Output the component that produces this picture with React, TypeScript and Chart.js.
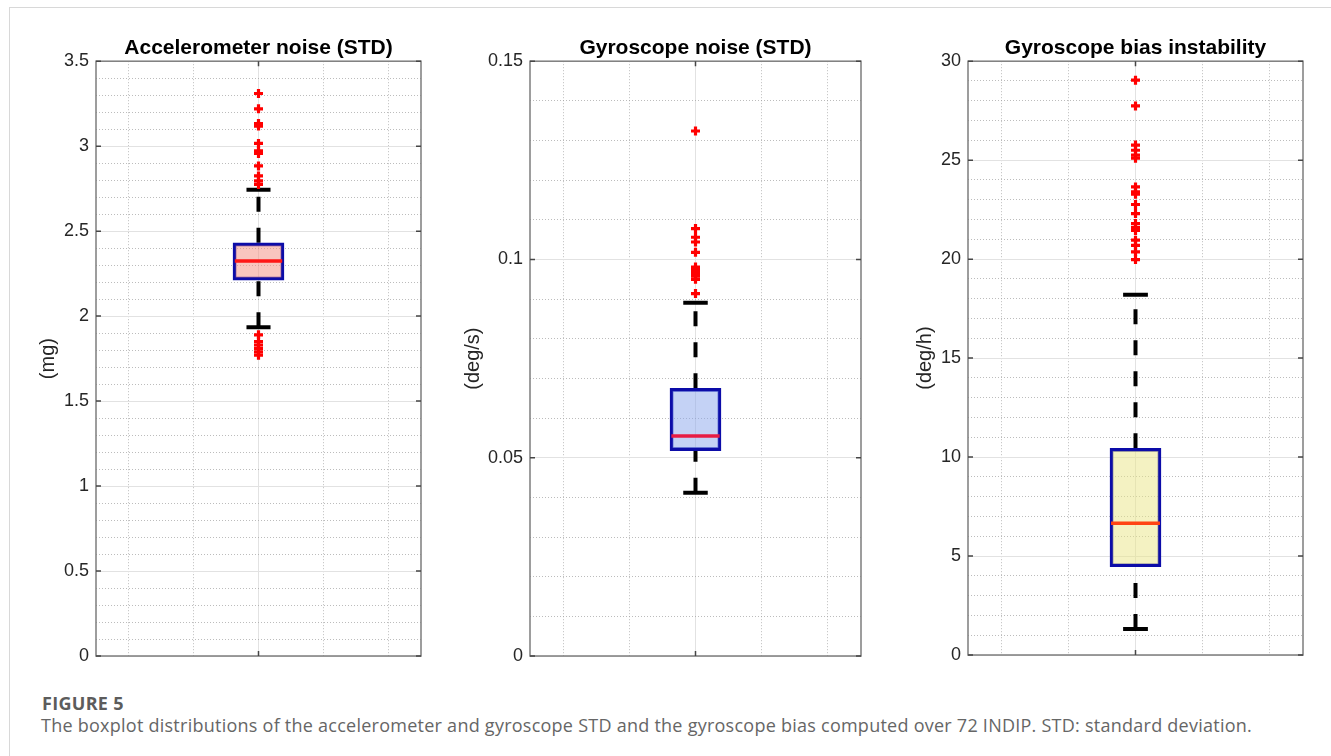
import React, { useEffect, useRef } from 'react';
import { Chart, registerables } from 'chart.js';

Chart.register(...registerables);

const FONT = '"Liberation Sans", Arial, Helvetica, sans-serif';

// [lower whisker, Q1, median, Q3, upper whisker]
const ACC_BOX = [1.935, 2.212, 2.324, 2.431, 2.743];
const ACC_OUTLIERS = [3.31, 3.22, 3.133, 3.118, 3.016, 2.973, 2.957, 2.884, 2.825, 2.796, 2.775, 1.89, 1.85, 1.83, 1.81, 1.79, 1.77];
const GYRO_BOX = [0.0412, 0.0518, 0.0555, 0.0675, 0.0891];
const GYRO_OUTLIERS = [0.1324, 0.1078, 0.1056, 0.1044, 0.1018, 0.0981, 0.0975, 0.097, 0.0965, 0.0958, 0.095, 0.0914];
const BIAS_BOX = [1.31, 4.46, 6.65, 10.44, 18.2];
const BIAS_OUTLIERS = [29.04, 27.74, 25.76, 25.5, 25.25, 25.1, 23.65, 23.4, 23.28, 22.76, 22.3, 21.8, 21.6, 21.45, 20.96, 20.7, 20.37, 19.98];

const TITLES = ['Accelerometer noise (STD)', 'Gyroscope noise (STD)', 'Gyroscope bias instability'];
const UNITS = ['(mg)', '(deg/s)', '(deg/h)'];
const Y_MAX = [3.5, 0.15, 30];
const Y_MAJOR = [0.5, 0.05, 5];
const Y_MINOR = [0.1, 0.01, 1];
const X_MAJOR_TICKS = [1];
const X_MINOR_TICKS = [0.6, 0.8, 1.2, 1.4];

const BOX_FILLS = ['rgba(243,139,125,0.5)', 'rgba(137,165,235,0.5)', 'rgba(233,229,133,0.5)'];
const MEDIAN_COLORS = ['rgb(255,22,22)', 'rgb(232,28,68)', 'rgb(255,68,20)'];
const BOX_EDGE = 'rgb(12,12,168)';

const LAYOUTS = [
  { left: 0, width: 440, axisW: 96, padR: 19, padB: 24, yTitlePad: 36 },
  { left: 440, width: 450, axisW: 90, padR: 29, padB: 24, yTitlePad: 21 },
  { left: 890, width: 441, axisW: 78, padR: 28, padB: 25, yTitlePad: 23 },
];

const BOXES = [ACC_BOX, GYRO_BOX, BIAS_BOX];
const OUTLIERS = [ACC_OUTLIERS, GYRO_OUTLIERS, BIAS_OUTLIERS];

const CANVAS_H = 680;
const MEDIAN_HALF = 0.073;
const CAP_HALF = 0.037;

const fmt = (v: number) => String(+Number(v).toFixed(4));

function framePlugin() {
  return {
    id: 'frameTicks',
    afterDraw(chart: any) {
      const { ctx, chartArea } = chart;
      const { left, right, top, bottom } = chartArea;
      ctx.save();
      ctx.strokeStyle = 'rgb(125,125,125)';
      ctx.lineWidth = 1.5;
      ctx.strokeRect(left, top, right - left, bottom - top);
      ctx.strokeStyle = 'rgb(70,70,70)';
      ctx.lineWidth = 1.5;
      const ys = chart.scales.y;
      ctx.beginPath();
      ys.ticks.forEach((t: any) => {
        const py = ys.getPixelForValue(t.value);
        ctx.moveTo(left, py);
        ctx.lineTo(left + 5, py);
        ctx.moveTo(right - 5, py);
        ctx.lineTo(right, py);
      });
      const xs = chart.scales.x;
      xs.ticks.forEach((t: any) => {
        const px = xs.getPixelForValue(t.value);
        ctx.moveTo(px, bottom);
        ctx.lineTo(px, bottom - 5);
        ctx.moveTo(px, top);
        ctx.lineTo(px, top + 5);
      });
      ctx.stroke();
      ctx.restore();
    },
  };
}

function BoxPanel({ idx }: { idx: number }) {
  const ref = useRef<HTMLCanvasElement>(null);
  const L = LAYOUTS[idx];
  useEffect(() => {
    const [wLo, q1, med, q3, wHi] = BOXES[idx];
    const major = Y_MAJOR[idx];
    const isMajor = (v: number) => Math.abs(v / major - Math.round(v / major)) < 1e-6;
    const chart = new Chart(ref.current as HTMLCanvasElement, {
      type: 'scatter',
      data: {
        datasets: [
          {
            type: 'scatter',
            data: OUTLIERS[idx].map((v) => ({ x: 1, y: v })),
            pointStyle: 'cross',
            pointRadius: 4.5,
            borderWidth: 3.2,
            borderColor: 'rgb(255,0,0)',
            backgroundColor: 'rgb(255,0,0)',
            order: 0,
          } as any,
          {
            type: 'line',
            data: [{ x: 1 - MEDIAN_HALF, y: med }, { x: 1 + MEDIAN_HALF, y: med }],
            borderColor: MEDIAN_COLORS[idx],
            borderWidth: 3.5,
            pointRadius: 0,
            fill: false,
            order: 1,
          },
          {
            type: 'bar',
            data: [{ x: 1, y: [q1, q3] }],
            barThickness: 51,
            backgroundColor: BOX_FILLS[idx],
            borderColor: BOX_EDGE,
            borderWidth: 3,
            borderSkipped: false,
            order: 2,
          } as any,
          {
            type: 'line',
            data: [{ x: 1 - CAP_HALF, y: wHi }, { x: 1 + CAP_HALF, y: wHi }],
            borderColor: '#000',
            borderWidth: 4,
            pointRadius: 0,
            order: 3,
          },
          {
            type: 'line',
            data: [{ x: 1 - CAP_HALF, y: wLo }, { x: 1 + CAP_HALF, y: wLo }],
            borderColor: '#000',
            borderWidth: 4,
            pointRadius: 0,
            order: 3,
          },
          {
            type: 'line',
            data: [{ x: 1, y: q3 }, { x: 1, y: wHi }],
            borderColor: '#000',
            borderWidth: 4,
            borderDash: [15, 16],
            borderCapStyle: 'butt',
            pointRadius: 0,
            order: 4,
          },
          {
            type: 'line',
            data: [{ x: 1, y: wLo }, { x: 1, y: q1 }],
            borderColor: '#000',
            borderWidth: 4,
            borderDash: [15, 16],
            borderCapStyle: 'butt',
            pointRadius: 0,
            order: 4,
          },
        ],
      },
      options: {
        responsive: false,
        animation: false,
        devicePixelRatio: 1,
        events: [],
        layout: { padding: { left: 0, right: L.padR, top: 0, bottom: L.padB } },
        plugins: {
          legend: { display: false },
          tooltip: { enabled: false },
          title: {
            display: true,
            text: TITLES[idx],
            fullSize: false,
            color: '#000',
            font: { family: FONT, size: 21, weight: 'bold' },
            padding: { top: 36, bottom: 0 },
          },
        },
        scales: {
          x: {
            type: 'linear',
            min: 0.5,
            max: 1.5,
            offset: false,
            position: 'bottom',
            afterBuildTicks: (s: any) => { s.ticks = X_MAJOR_TICKS.map((v) => ({ value: v })); },
            afterFit: (s: any) => { s.height = 0; },
            ticks: { display: false },
            grid: { offset: false, drawTicks: false, color: 'rgb(226,226,226)', lineWidth: 1 },
            border: { display: false },
          },
          xMinor: {
            type: 'linear',
            min: 0.5,
            max: 1.5,
            offset: false,
            position: 'bottom',
            afterBuildTicks: (s: any) => { s.ticks = X_MINOR_TICKS.map((v) => ({ value: v })); },
            afterFit: (s: any) => { s.height = 0; },
            ticks: { display: false },
            grid: { offset: false, drawTicks: false, color: 'rgba(160,160,160,0.7)', lineWidth: 1 },
            border: { display: false, dash: [1, 2] },
          },
          y: {
            type: 'linear',
            min: 0,
            max: Y_MAX[idx],
            position: 'left',
            afterFit: (s: any) => { s.width = L.axisW; },
            ticks: {
              stepSize: Y_MAJOR[idx],
              padding: 7,
              color: '#262626',
              font: { family: FONT, size: 18 },
              callback: (v: any) => fmt(v),
            },
            title: {
              display: true,
              text: UNITS[idx],
              color: '#262626',
              font: { family: FONT, size: 20 },
              padding: { top: L.yTitlePad, bottom: 0 },
            },
            grid: { drawTicks: false, color: 'rgb(226,226,226)', lineWidth: 1 },
            border: { display: false },
          },
          yMinor: {
            type: 'linear',
            min: 0,
            max: Y_MAX[idx],
            position: 'left',
            afterFit: (s: any) => { s.width = 0; },
            ticks: { display: false, stepSize: Y_MINOR[idx] },
            grid: {
              drawTicks: false,
              lineWidth: 1,
              color: (c: any) => (c.tick && isMajor(c.tick.value) ? 'rgba(0,0,0,0)' : 'rgba(160,160,160,0.7)'),
            },
            border: { display: false, dash: [1, 2] },
          },
        },
      } as any,
      plugins: [framePlugin()],
    });
    return () => chart.destroy();
  }, [idx]);
  return (
    <canvas
      ref={ref}
      width={L.width}
      height={CANVAS_H}
      style={{ position: 'absolute', left: L.left, top: 0, width: L.width, height: CANVAS_H }}
    />
  );
}

export default function App() {
  return (
    <div style={{ position: 'absolute', left: 0, top: 0, width: 1331, height: 756, background: '#fff', overflow: 'hidden' }}>
      <div style={{ position: 'absolute', left: 9, top: 7, width: 1330, height: 760, borderTop: '1px solid #d8d8d8', borderLeft: '1px solid #d8d8d8' }} />
      {[0, 1, 2].map((i) => (
        <BoxPanel key={i} idx={i} />
      ))}
      <div
        style={{
          position: 'absolute',
          left: 42,
          top: 694,
          fontFamily: '"Open Sans", Lato, sans-serif',
          fontWeight: 700,
          fontSize: 18,
          lineHeight: '18px',
          letterSpacing: 0.3,
          color: '#5c5c5c',
          whiteSpace: 'nowrap',
        }}
      >
        FIGURE 5
      </div>
      <div
        style={{
          position: 'absolute',
          left: 41,
          top: 716,
          fontFamily: '"Open Sans", Lato, sans-serif',
          fontWeight: 400,
          fontSize: 18,
          lineHeight: '18px',
          letterSpacing: 0.25,
          color: '#666666',
          whiteSpace: 'nowrap',
        }}
      >
        The boxplot distributions of the accelerometer and gyroscope STD and the gyroscope bias computed over 72 INDIP. STD: standard deviation.
      </div>
    </div>
  );
}
